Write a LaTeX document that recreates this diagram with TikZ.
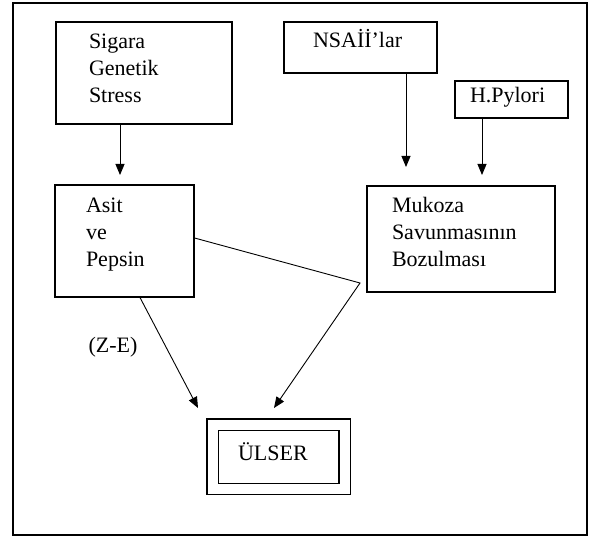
\documentclass[tikz,border=0pt]{standalone}
\usepackage{fontspec}
\setmainfont{Liberation Serif}
\usetikzlibrary{arrows.meta}
\newcommand{\dep}[1]{\rule[-#1]{0pt}{#1}}
\begin{document}
\begin{tikzpicture}[x=1pt,y=-1pt,
  box/.style={draw=black,line width=1.1pt,inner ysep=0pt,font=\fontsize{22}{27}\selectfont,align=left},
  arr/.style={draw=black,line width=0.9pt,-{Triangle[length=11pt,width=9pt]}},
  lbl/.style={font=\fontsize{22}{27}\selectfont}]
\useasboundingbox (0,0) rectangle (589,537);
\draw[line width=1.3pt] (13,3) rectangle (587,535);
% boxes
\node[box,minimum height=102pt,inner xsep=33pt,text width=110pt] (sig) at (144,73)
  {Sigara\\Genetik\\Stress\dep{9pt}};
\node[box,minimum height=112pt,inner xsep=31pt,text width=77pt] (asit) at (124.5,241)
  {Asit\\ve\\Pepsin\dep{17pt}};
\node[box,minimum height=106pt,inner xsep=25pt,text width=138pt] (muk) at (461,239)
  {Mukoza\\Savunmasının\\Bozulması\dep{14pt}};
\node[box,text height=26pt,text depth=25pt,inner xsep=29pt,text width=95pt] (nsa) at (360.5,47.5)
  {NSAİİ’lar};
\node[box,text height=22pt,text depth=15pt,inner xsep=15pt,text width=83pt] (hp) at (511.5,99.5)
  {H.Pylori};
\node[box,double,double distance=10pt,text height=35.5pt,text depth=29pt,inner xsep=25.5pt,text width=81pt] (ul) at (278.5,456.75)
  {ÜLSER};
% label
\node[lbl] (ze) at (113,347) {(Z-E)};
% connectors
\coordinate (t1) at (120,175);
\coordinate (t2) at (406,167);
\coordinate (t3) at (482,175);
\coordinate (j) at (360,283);
\coordinate (t4) at (274,408);
\coordinate (t5) at (198,408);
\draw[arr] (sig.south -| t1) -- (t1);
\draw[arr] (nsa.south -| t2) -- (t2);
\draw[arr] (hp.south -| t3) -- (t3);
\draw[arr] ([yshift=3pt]asit.east) -- (j) -- (t4);
\draw[arr] ([xshift=15.5pt]asit.south) -- (t5);
\end{tikzpicture}
\end{document}
